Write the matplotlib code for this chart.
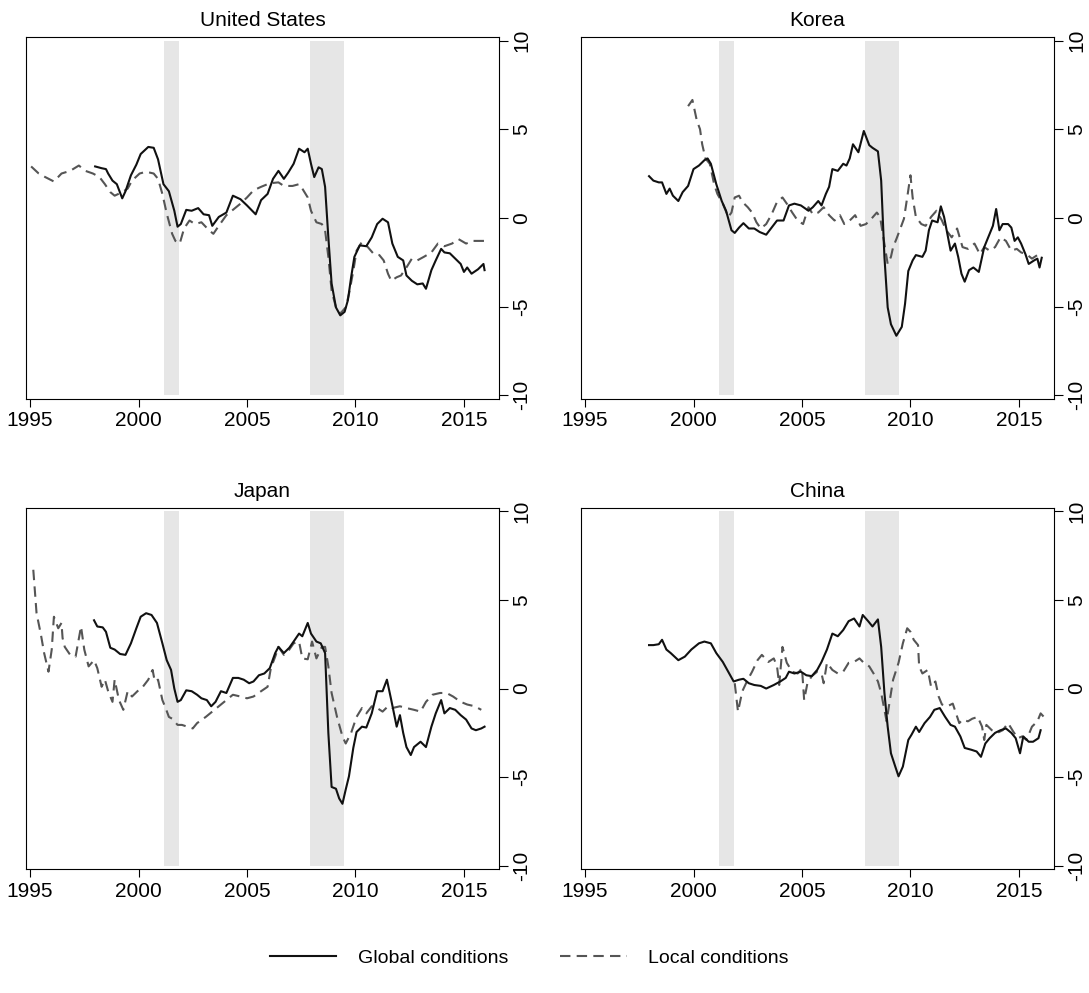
import numpy as np
import matplotlib
matplotlib.use("Agg")
import matplotlib.pyplot as plt
from matplotlib.lines import Line2D

plt.rcParams['font.family'] = ['Liberation Sans', 'DejaVu Sans']
plt.rcParams['axes.unicode_minus'] = False

# (year, value) readings for each series
us_global = [(1998.0, 2.9), (1998.3, 2.8), (1998.5, 2.75), (1998.6, 2.5), (1998.8, 2.1), (1999.0, 1.9),
             (1999.25, 1.1), (1999.4, 1.5), (1999.65, 2.4), (1999.9, 3.0), (2000.1, 3.6), (2000.45, 4.0),
             (2000.7, 3.95), (2000.9, 3.3), (2001.15, 1.9), (2001.4, 1.5), (2001.65, 0.4), (2001.8, -0.5),
             (2001.95, -0.35), (2002.2, 0.45), (2002.45, 0.4), (2002.75, 0.55), (2003.0, 0.2), (2003.25, 0.15),
             (2003.4, -0.45), (2003.7, 0.05), (2004.05, 0.3), (2004.35, 1.25), (2004.7, 1.05), (2005.0, 0.7),
             (2005.4, 0.2), (2005.65, 1.0), (2005.95, 1.35), (2006.2, 2.2), (2006.45, 2.65), (2006.7, 2.2),
             (2006.9, 2.55), (2007.15, 3.05), (2007.4, 3.9), (2007.65, 3.7), (2007.8, 3.9), (2007.95, 3.05),
             (2008.1, 2.3), (2008.3, 2.85), (2008.45, 2.75), (2008.6, 1.75), (2008.75, -1.1), (2008.9, -3.7),
             (2009.1, -5.05), (2009.3, -5.5), (2009.5, -5.3), (2009.65, -4.65), (2009.8, -3.35), (2009.95, -2.2),
             (2010.2, -1.55), (2010.5, -1.6), (2010.75, -1.1), (2011.0, -0.35), (2011.25, -0.05), (2011.5, -0.25),
             (2011.7, -1.45), (2011.95, -2.2), (2012.2, -2.4), (2012.35, -3.25), (2012.6, -3.55), (2012.85, -3.75),
             (2013.1, -3.7), (2013.25, -4.0), (2013.5, -2.95), (2013.7, -2.4), (2013.95, -1.75), (2014.1, -1.95),
             (2014.35, -2.0), (2014.6, -2.3), (2014.85, -2.6), (2015.0, -3.05), (2015.15, -2.8), (2015.35, -3.15),
             (2015.65, -2.9), (2015.9, -2.6), (2015.95, -2.95)]

us_local = [(1995.05, 2.9), (1995.4, 2.5), (1995.7, 2.3), (1996.1, 2.05), (1996.45, 2.5), (1996.85, 2.65),
            (1997.25, 2.95), (1997.55, 2.65), (1997.9, 2.5), (1998.2, 2.3), (1998.45, 1.9), (1998.7, 1.45),
            (1998.9, 1.25), (1999.25, 1.45), (1999.5, 1.65), (1999.7, 2.1), (2000.05, 2.5), (2000.35, 2.6),
            (2000.7, 2.5), (2000.9, 2.2), (2001.1, 1.35), (2001.3, 0.25), (2001.55, -0.9), (2001.7, -1.3),
            (2001.9, -1.45), (2002.1, -0.6), (2002.35, -0.15), (2002.6, -0.35), (2002.9, -0.25), (2003.25, -0.7),
            (2003.45, -0.9), (2003.7, -0.45), (2004.05, 0.15), (2004.3, 0.4), (2004.7, 0.8), (2005.0, 1.15),
            (2005.3, 1.55), (2005.65, 1.75), (2006.05, 1.95), (2006.45, 2.0), (2006.7, 1.8), (2007.1, 1.8),
            (2007.4, 1.9), (2007.55, 1.65), (2007.8, 1.15), (2007.95, 0.4), (2008.2, -0.25), (2008.45, -0.35),
            (2008.6, -0.7), (2008.75, -2.2), (2008.9, -4.1), (2009.1, -5.05), (2009.3, -5.4), (2009.55, -5.05),
            (2009.7, -4.3), (2009.9, -3.0), (2010.05, -1.85), (2010.3, -1.35), (2010.5, -1.55), (2010.85, -2.05),
            (2011.1, -2.1), (2011.3, -2.4), (2011.5, -3.15), (2011.65, -3.55), (2011.9, -3.35), (2012.1, -3.25),
            (2012.35, -2.8), (2012.6, -2.3), (2012.85, -2.4), (2013.15, -2.2), (2013.5, -1.95), (2013.8, -1.45),
            (2014.1, -1.6), (2014.45, -1.45), (2014.75, -1.2), (2015.1, -1.45), (2015.4, -1.3), (2015.7, -1.3),
            (2015.95, -1.3)]

korea_global = [(1997.95, 2.35), (1998.15, 2.1), (1998.4, 2.0), (1998.55, 2.0), (1998.75, 1.35), (1998.9, 1.65),
                (1999.05, 1.25), (1999.3, 0.95), (1999.5, 1.45), (1999.75, 1.8), (2000.0, 2.75), (2000.25, 2.95),
                (2000.5, 3.25), (2000.65, 3.35), (2000.8, 3.05), (2001.05, 1.9), (2001.3, 0.95), (2001.5, 0.4),
                (2001.75, -0.7), (2001.9, -0.85), (2002.1, -0.55), (2002.3, -0.3), (2002.55, -0.6), (2002.8, -0.6),
                (2003.05, -0.8), (2003.35, -0.95), (2003.6, -0.55), (2003.85, -0.15), (2004.15, -0.15), (2004.4, 0.7),
                (2004.65, 0.8), (2004.95, 0.7), (2005.3, 0.4), (2005.5, 0.6), (2005.75, 0.95), (2005.9, 0.7),
                (2006.1, 1.35), (2006.25, 1.75), (2006.4, 2.75), (2006.65, 2.65), (2006.9, 3.05), (2007.05, 2.95),
                (2007.2, 3.35), (2007.35, 4.15), (2007.6, 3.7), (2007.85, 4.9), (2008.1, 4.1), (2008.25, 3.95),
                (2008.5, 3.75), (2008.65, 2.1), (2008.8, -2.2), (2008.95, -5.05), (2009.1, -6.0), (2009.35, -6.65),
                (2009.6, -6.15), (2009.75, -4.85), (2009.9, -3.0), (2010.1, -2.4), (2010.25, -2.1), (2010.55, -2.2),
                (2010.7, -1.85), (2010.85, -0.7), (2011.0, -0.15), (2011.25, -0.25), (2011.4, 0.65), (2011.55, 0.05),
                (2011.7, -0.9), (2011.85, -1.85), (2012.05, -1.45), (2012.2, -2.2), (2012.35, -3.15), (2012.5, -3.6),
                (2012.7, -2.95), (2012.9, -2.8), (2013.15, -3.05), (2013.4, -1.65), (2013.65, -0.9), (2013.8, -0.45),
                (2013.95, 0.5), (2014.1, -0.7), (2014.25, -0.35), (2014.5, -0.35), (2014.65, -0.55), (2014.8, -1.3),
                (2014.95, -1.1), (2015.1, -1.45), (2015.3, -2.05), (2015.45, -2.6), (2015.7, -2.4), (2015.85, -2.3),
                (2015.95, -2.8), (2016.05, -2.25)]

korea_local = [(1999.75, 6.3), (1999.95, 6.65), (2000.15, 5.5), (2000.3, 5.0), (2000.4, 4.15), (2000.55, 3.35),
               (2000.75, 3.05), (2000.95, 1.9), (2001.1, 1.35), (2001.35, 0.8), (2001.6, 0.05), (2001.75, 0.3),
               (2001.9, 1.15), (2002.1, 1.25), (2002.25, 0.9), (2002.5, 0.6), (2002.7, 0.3), (2002.9, -0.25),
               (2003.1, -0.6), (2003.35, -0.35), (2003.6, 0.2), (2003.85, 0.9), (2004.1, 1.15), (2004.3, 0.8),
               (2004.55, 0.3), (2004.8, -0.15), (2005.05, -0.35), (2005.3, 0.6), (2005.5, 0.2), (2005.75, 0.3),
               (2006.0, 0.6), (2006.25, 0.15), (2006.5, -0.15), (2006.75, 0.15), (2006.95, -0.35), (2007.2, -0.15),
               (2007.45, 0.15), (2007.7, -0.45), (2007.95, -0.35), (2008.2, -0.05), (2008.45, 0.3), (2008.6, 0.05),
               (2008.75, -1.1), (2008.95, -2.6), (2009.1, -2.2), (2009.2, -1.65), (2009.35, -1.2), (2009.55, -0.55),
               (2009.7, -0.05), (2009.85, 1.15), (2010.0, 2.4), (2010.1, 1.15), (2010.25, 0.05), (2010.5, -0.35),
               (2010.7, -0.45), (2010.95, 0.05), (2011.2, 0.4), (2011.45, -0.15), (2011.65, -0.7), (2011.9, -1.1),
               (2012.15, -0.6), (2012.4, -1.65), (2012.65, -1.75), (2012.95, -1.45), (2013.2, -2.05), (2013.4, -1.65),
               (2013.65, -1.85), (2013.9, -1.65), (2014.15, -1.1), (2014.4, -1.3), (2014.65, -1.85), (2014.9, -1.75),
               (2015.1, -1.95), (2015.35, -2.05), (2015.6, -2.3), (2015.85, -2.1)]

japan_global = [(1997.95, 3.85), (1998.1, 3.5), (1998.35, 3.45), (1998.5, 3.2), (1998.7, 2.3), (1998.9, 2.2),
                (1999.15, 1.95), (1999.4, 1.9), (1999.65, 2.55), (1999.9, 3.4), (2000.1, 4.05), (2000.35, 4.25),
                (2000.6, 4.15), (2000.85, 3.7), (2001.1, 2.55), (2001.3, 1.6), (2001.5, 1.05), (2001.65, 0.0),
                (2001.8, -0.75), (2001.95, -0.65), (2002.2, -0.1), (2002.45, -0.15), (2002.7, -0.35), (2002.9, -0.55),
                (2003.15, -0.65), (2003.35, -1.0), (2003.55, -0.75), (2003.8, -0.15), (2004.05, -0.25), (2004.35, 0.6),
                (2004.6, 0.6), (2004.85, 0.5), (2005.1, 0.3), (2005.3, 0.4), (2005.55, 0.75), (2005.8, 0.85),
                (2006.05, 1.15), (2006.3, 2.0), (2006.45, 2.35), (2006.7, 2.0), (2006.95, 2.3), (2007.15, 2.65),
                (2007.4, 3.1), (2007.55, 2.95), (2007.8, 3.7), (2007.95, 3.1), (2008.2, 2.65), (2008.4, 2.55),
                (2008.6, 2.0), (2008.75, -2.5), (2008.9, -5.55), (2009.1, -5.65), (2009.25, -6.2), (2009.4, -6.5),
                (2009.55, -5.7), (2009.7, -4.95), (2009.9, -3.35), (2010.05, -2.45), (2010.3, -2.15), (2010.5, -2.2),
                (2010.75, -1.4), (2011.0, -0.15), (2011.25, -0.15), (2011.45, 0.5), (2011.65, -0.65), (2011.9, -2.15),
                (2012.05, -1.5), (2012.2, -2.5), (2012.35, -3.3), (2012.55, -3.75), (2012.7, -3.3), (2013.0, -3.0),
                (2013.25, -3.3), (2013.5, -2.15), (2013.7, -1.4), (2013.95, -0.65), (2014.1, -1.4), (2014.35, -1.1),
                (2014.6, -1.2), (2014.85, -1.5), (2015.1, -1.75), (2015.35, -2.25), (2015.55, -2.35), (2015.8, -2.25),
                (2015.95, -2.15)]

japan_local = [(1995.15, 6.7), (1995.3, 4.25), (1995.5, 3.05), (1995.65, 2.0), (1995.85, 0.95), (1996.0, 2.2),
               (1996.1, 4.05), (1996.3, 3.4), (1996.45, 3.7), (1996.5, 2.85), (1996.6, 2.35), (1996.85, 1.9),
               (1997.1, 1.8), (1997.35, 3.5), (1997.5, 2.2), (1997.7, 1.25), (1997.95, 1.6), (1998.1, 1.15),
               (1998.3, 0.1), (1998.45, 0.5), (1998.6, -0.15), (1998.8, -0.75), (1998.9, 0.5), (1999.1, -0.65),
               (1999.3, -1.2), (1999.5, -0.15), (1999.7, -0.45), (1999.95, -0.15), (2000.2, 0.1), (2000.45, 0.5),
               (2000.65, 1.05), (2000.75, 0.4), (2000.9, 0.5), (2001.1, -0.65), (2001.25, -1.1), (2001.4, -1.6),
               (2001.55, -1.7), (2001.8, -2.05), (2002.0, -2.05), (2002.25, -2.15), (2002.5, -2.25), (2002.7, -1.95),
               (2003.1, -1.6), (2003.4, -1.3), (2003.7, -1.0), (2004.05, -0.65), (2004.35, -0.35), (2004.7, -0.45),
               (2005.0, -0.55), (2005.3, -0.45), (2005.65, -0.15), (2005.95, 0.1), (2006.1, 1.15), (2006.3, 1.8),
               (2006.45, 2.35), (2006.7, 1.9), (2006.95, 2.2), (2007.15, 2.55), (2007.4, 2.65), (2007.55, 1.7),
               (2007.8, 1.65), (2008.0, 2.65), (2008.2, 1.7), (2008.45, 2.35), (2008.6, 2.35), (2008.75, 1.25),
               (2008.9, -0.25), (2009.15, -1.6), (2009.4, -2.7), (2009.55, -3.1), (2009.8, -2.5), (2010.05, -1.6),
               (2010.3, -1.1), (2010.5, -1.4), (2010.75, -1.0), (2011.0, -1.1), (2011.25, -1.3), (2011.5, -1.0),
               (2011.7, -1.1), (2012.05, -1.0), (2012.35, -1.1), (2012.7, -1.2), (2013.0, -1.3), (2013.25, -0.75),
               (2013.55, -0.35), (2013.9, -0.25), (2014.2, -0.25), (2014.5, -0.45), (2014.85, -0.75), (2015.15, -0.9),
               (2015.5, -1.0), (2015.8, -1.2)]

china_global = [(1997.95, 2.45), (1998.15, 2.45), (1998.4, 2.5), (1998.55, 2.75), (1998.75, 2.2), (1998.95, 2.0),
                (1999.3, 1.6), (1999.6, 1.8), (1999.9, 2.2), (2000.25, 2.55), (2000.5, 2.65), (2000.8, 2.55),
                (2001.05, 2.0), (2001.35, 1.5), (2001.6, 0.95), (2001.85, 0.4), (2002.1, 0.5), (2002.3, 0.55),
                (2002.55, 0.3), (2002.8, 0.2), (2003.1, 0.15), (2003.35, 0.0), (2003.7, 0.2), (2004.0, 0.4),
                (2004.25, 0.6), (2004.4, 0.95), (2004.65, 0.85), (2004.95, 0.95), (2005.2, 0.75), (2005.45, 0.7),
                (2005.7, 1.05), (2005.9, 1.5), (2006.15, 2.2), (2006.4, 3.1), (2006.65, 2.95), (2006.9, 3.3),
                (2007.15, 3.8), (2007.4, 3.95), (2007.65, 3.5), (2007.8, 4.15), (2008.05, 3.8), (2008.25, 3.5),
                (2008.5, 3.9), (2008.65, 2.35), (2008.8, -0.25), (2008.95, -2.15), (2009.1, -3.65), (2009.3, -4.4),
                (2009.45, -4.95), (2009.65, -4.4), (2009.9, -2.9), (2010.05, -2.6), (2010.25, -2.15), (2010.4, -2.45),
                (2010.65, -1.95), (2010.9, -1.6), (2011.1, -1.2), (2011.35, -1.1), (2011.6, -1.6), (2011.85, -2.05),
                (2012.05, -2.15), (2012.3, -2.7), (2012.5, -3.35), (2012.8, -3.45), (2013.05, -3.55), (2013.25, -3.85),
                (2013.45, -3.1), (2013.65, -2.8), (2013.9, -2.5), (2014.15, -2.35), (2014.4, -2.25), (2014.65, -2.5),
                (2014.85, -2.8), (2015.05, -3.65), (2015.2, -2.7), (2015.45, -3.0), (2015.65, -3.0), (2015.9, -2.8),
                (2016.0, -2.35)]

china_local = [(2001.9, 0.3), (2002.05, -1.3), (2002.25, -0.15), (2002.5, 0.5), (2002.7, 0.95), (2002.95, 1.6),
               (2003.15, 1.9), (2003.45, 1.5), (2003.7, 1.7), (2003.85, 1.25), (2003.95, 0.2), (2004.1, 2.35),
               (2004.3, 1.45), (2004.55, 0.95), (2004.8, 0.85), (2005.0, 1.15), (2005.1, -0.65), (2005.25, 0.3),
               (2005.45, 0.7), (2005.7, 0.95), (2005.9, 0.85), (2006.0, 0.3), (2006.15, 1.45), (2006.4, 1.05),
               (2006.65, 0.85), (2006.9, 0.95), (2007.15, 1.45), (2007.4, 1.5), (2007.65, 1.7), (2007.85, 1.45),
               (2008.1, 1.25), (2008.3, 0.85), (2008.5, 0.4), (2008.65, -0.25), (2008.8, -1.2), (2008.9, -1.85),
               (2009.05, -0.65), (2009.2, 0.5), (2009.45, 1.45), (2009.65, 2.55), (2009.85, 3.4), (2010.0, 3.2),
               (2010.15, 2.75), (2010.35, 2.45), (2010.4, 1.25), (2010.55, 0.85), (2010.8, 1.05), (2010.95, 0.1),
               (2011.15, 0.4), (2011.3, -0.45), (2011.45, -0.9), (2011.7, -1.0), (2011.95, -0.85), (2012.1, -1.4),
               (2012.25, -1.95), (2012.4, -1.75), (2012.65, -1.85), (2012.85, -1.7), (2013.1, -1.6), (2013.3, -2.15),
               (2013.4, -2.9), (2013.5, -2.05), (2013.75, -2.35), (2014.0, -2.5), (2014.25, -2.35), (2014.5, -1.95),
               (2014.75, -2.45), (2014.95, -2.8), (2015.15, -2.7), (2015.35, -2.9), (2015.6, -2.15), (2015.85, -1.85),
               (2016.0, -1.4), (2016.15, -1.6)]

panel_titles = ["United States", "Korea", "Japan", "China"]
panel_series = [(us_global, us_local), (korea_global, korea_local),
                (japan_global, japan_local), (china_global, china_local)]
recessions = [(2001.17, 2001.88), (2007.92, 2009.46)]
year_ticks = [1995, 2000, 2005, 2010, 2015]
value_ticks = [-10, -5, 0, 5, 10]
legend_labels = ["Global conditions", "Local conditions"]

W, H = 1089, 993
fig = plt.figure(figsize=(W / 100, H / 100), dpi=100)

# panel frames in pixels: (left, top)
frames = [(25.7, 37.0), (580.7, 37.0), (25.7, 507.7), (580.7, 507.7)]
pw, ph = 473.6, 361.7

dash = (5, 3)
for (fx, fy), title, (glob, loc) in zip(frames, panel_titles, panel_series):
    ax = fig.add_axes([fx / W, 1 - (fy + ph) / H, pw / W, ph / H])
    for r0, r1 in recessions:
        ax.fill_between([r0, r1], -10, 10, color='#e6e6e6', lw=0, zorder=0)
    gx, gy = np.array(glob).T
    lx, ly = np.array(loc).T
    ax.plot(lx, ly, color='#555555', lw=1.5, dashes=dash, zorder=2)
    ax.plot(gx, gy, color='#111111', lw=1.5, zorder=3)

    ax.set_xlim(1994.8, 2016.63)
    ax.set_ylim(-10.2, 10.2)
    ax.set_xticks(year_ticks)
    ax.set_yticks(value_ticks)
    ax.set_yticklabels([str(v) for v in value_ticks])
    ax.yaxis.tick_right()
    ax.tick_params(axis='x', length=6, width=0.8, pad=3, labelsize=15)
    ax.tick_params(axis='y', length=6.5, width=0.8, pad=3, labelsize=15)
    for lab in ax.get_yticklabels():
        lab.set_rotation(90)
        lab.set_va('center')
        lab.set_ha('left')
    for sp in ax.spines.values():
        sp.set_linewidth(0.8)
    ax.set_title(title, fontsize=15, pad=8)

handles = [Line2D([], [], color='#111111', lw=1.5),
           Line2D([], [], color='#555555', lw=1.5, dashes=dash)]
fig.legend(handles, legend_labels, loc='center', bbox_to_anchor=(0.486, 1 - 958 / H),
           ncol=2, frameon=False, fontsize=14, handlelength=3.4,
           handletextpad=1.1, columnspacing=2.7)

fig.savefig("out.png", dpi=100)
